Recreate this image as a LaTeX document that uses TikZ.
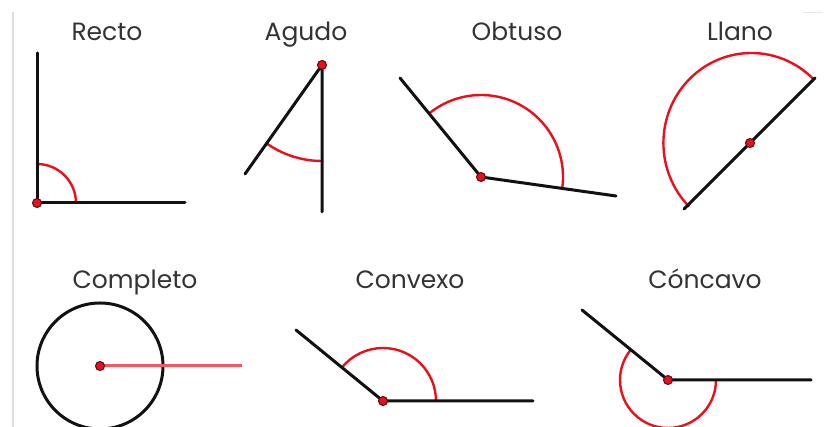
\documentclass[tikz,border=0pt]{standalone}
\usepackage{fontspec}
\setmainfont{Poppins}
\usepackage{tikz}
\usetikzlibrary{positioning,calc}
\definecolor{ink}{HTML}{111111}
\definecolor{labelgray}{HTML}{333333}
\definecolor{arcred}{HTML}{E8101C}
\definecolor{dotrim}{HTML}{5A0A0A}
\definecolor{edgegray}{HTML}{DDDDDD}

\tikzset{
  ray/.style={ink,line width=3pt,line cap=round},
  angarc/.style={arcred,line width=2.4pt},
  vdot/.style={circle,fill=arcred,draw=dotrim,line width=1pt,inner sep=0pt,minimum size=9pt},
  title/.style={anchor=base,font=\fontsize{25}{28}\selectfont,text=labelgray}
}

\begin{document}
\begin{tikzpicture}[x=1pt,y=1pt]
  \useasboundingbox (0,0) rectangle (825,427);
  \fill[white] (0,0) rectangle (825,427);

  % Frame marks of the original clip.
  \draw[edgegray,line width=2pt] (13,0) -- (13,415);
  \draw[edgegray!70,line width=1pt] (803,414) -- (823,414);

  % Labels.
  \node[title] (tRecto) at (107,386) {Recto};
  \node[title] (tAgudo) at (306,386) {Agudo};
  \node[title] (tObtuso) at (517,386) {Obtuso};
  \node[title] (tLlano) at (740,386) {Llano};
  \node[title] (tCompleto) at (135,138) {Completo};
  \node[title] (tConvexo) at (410,138) {Convexo};
  \node[title] (tConcavo) at (705,138) {Cóncavo};

  % Recto.
  \coordinate (reV) at (37,224);
  \coordinate (reA) at (37,374);
  \coordinate (reB) at (185,224);
  \draw[angarc] ([shift={(0:39pt)}]reV) arc[start angle=0,end angle=90,radius=39pt];
  \draw[ray] (reA) -- (reV) -- (reB);
  \node[vdot] (reDot) at (reV) {};

  % Agudo.
  \coordinate (agV) at (322,362);
  \coordinate (agA) at (245,253);
  \coordinate (agB) at (322,215);
  \draw[angarc] ([shift={(235:96pt)}]agV) arc[start angle=235,end angle=270,radius=96pt];
  \draw[ray] (agA) -- (agV) -- (agB);
  \node[vdot] (agDot) at (agV) {};

  % Obtuso.
  \coordinate (obV) at (481,250);
  \coordinate (obA) at (400,349);
  \coordinate (obB) at (616,231);
  \draw[angarc] ([shift={(-8:82pt)}]obV) arc[start angle=-8,end angle=129,radius=82pt];
  \draw[ray] (obA) -- (obV) -- (obB);
  \node[vdot] (obDot) at (obV) {};

  % Llano.
  \coordinate (llV) at (750,284);
  \coordinate (llA) at (815,349);
  \coordinate (llB) at (684,218);
  \draw[angarc] ([shift={(45:90pt)}]llV) arc[start angle=45,end angle=225,x radius=88pt,y radius=90pt];
  \draw[ray] (llA) -- (llV) -- (llB);
  \node[vdot] (llDot) at (llV) {};

  % Completo.
  \coordinate (coV) at (100,61);
  \coordinate (coB) at (242,61);
  \draw[ink,line width=3pt] (coV) circle[radius=63pt];
  \draw[arcred!70,line width=3pt] (coV) -- (coB);
  \node[vdot] (coDot) at (coV) {};

  % Convexo.
  \coordinate (cxV) at (383,26);
  \coordinate (cxA) at (296,97);
  \coordinate (cxB) at (533,26);
  \draw[angarc] ([shift={(0:53pt)}]cxV) arc[start angle=0,end angle=141,radius=53pt];
  \draw[ray] (cxA) -- (cxV) -- (cxB);
  \node[vdot] (cxDot) at (cxV) {};

  % Concavo.
  \coordinate (ccV) at (668,47);
  \coordinate (ccA) at (582,117);
  \coordinate (ccB) at (811,47);
  \draw[angarc] ([shift={(141:48pt)}]ccV) arc[start angle=141,end angle=360,radius=48pt];
  \draw[ray] (ccA) -- (ccV) -- (ccB);
  \node[vdot] (ccDot) at (ccV) {};
\end{tikzpicture}
\end{document}
